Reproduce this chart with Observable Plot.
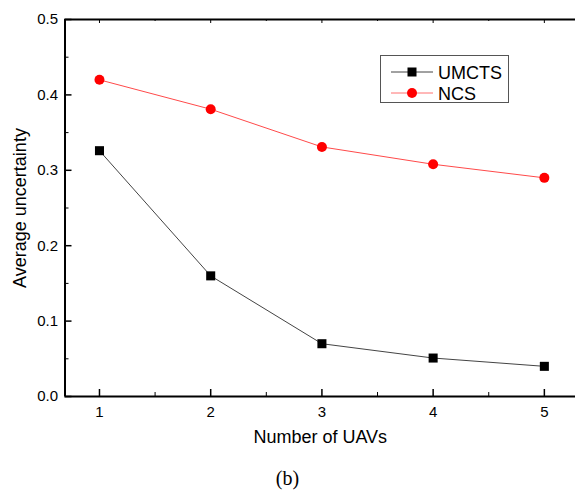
<!DOCTYPE html>
<html>
<head>
<meta charset="utf-8">
<script src="https://cdn.jsdelivr.net/npm/d3@7"></script>
<script src="https://cdn.jsdelivr.net/npm/@observablehq/plot@0.6"></script>
<style>
  body { margin: 0; background: #fff; }
  #wrap { position: relative; width: 575px; height: 495px; font-family: Arial, "Liberation Sans", sans-serif; }
  #legend { position: absolute; left: 380px; top: 55px; width: 127px; height: 46px; border: 1px solid #555; background: #fff; }
  #caption { position: absolute; left: 0; width: 575px; top: 467px; text-align: center; font-family: "Times New Roman", "Liberation Serif", serif; font-size: 20px; }
</style>
</head>
<body>
<div id="wrap">
  <div id="chart"></div>
  <div id="legend"></div>
  <div id="caption">(b)</div>
</div>
<script>
const uavs = [1, 2, 3, 4, 5];
const umcts = [0.326, 0.160, 0.070, 0.051, 0.040];
const ncs = [0.420, 0.381, 0.331, 0.308, 0.290];
const seriesNames = ["UMCTS", "NCS"];
const yMajor = [0, 0.1, 0.2, 0.3, 0.4, 0.5];
const yMinor = [0.05, 0.15, 0.25, 0.35, 0.45];
const xMajor = [1, 2, 3, 4, 5];
const xMinor = [1.5, 2.5, 3.5, 4.5];

const W = 575, H = 455;
const mL = 64.5, mR = 0, mT = 19, mB = H - 396;
const fw = W - mL - mR, fh = H - mT - mB;

const rowsU = uavs.map((x, i) => ({x, y: umcts[i]}));
const rowsN = uavs.map((x, i) => ({x, y: ncs[i]}));

const chart = Plot.plot({
  width: W, height: H,
  marginLeft: mL, marginRight: mR, marginTop: mT, marginBottom: mB,
  style: {fontFamily: "Arial, 'Liberation Sans', sans-serif", fontSize: "15px", color: "#000", background: "#fff"},
  x: {domain: [0.69, 5.28]},
  y: {domain: [0, 0.5]},
  marks: [
    Plot.axisY({ticks: yMajor, tickSize: 0, tickPadding: 7, tickFormat: d3.format(".1f"),
      label: "Average uncertainty", labelAnchor: "center", labelArrow: "none", labelOffset: 52}),
    Plot.axisX({ticks: xMajor, tickSize: 0, tickPadding: 10, tickFormat: d3.format("d"),
      label: "Number of UAVs", labelAnchor: "center", labelArrow: "none", labelOffset: 46}),
    // inward ticks
    Plot.ruleY(yMajor, {y: d => d, insetRight: fw - 7, stroke: "#000", strokeWidth: 1.5}),
    Plot.ruleY(yMinor, {y: d => d, insetRight: fw - 4, stroke: "#000", strokeWidth: 1}),
    Plot.ruleX(xMajor, {x: d => d, insetTop: fh - 7, stroke: "#000", strokeWidth: 1.5}),
    Plot.ruleX(xMinor, {x: d => d, insetTop: fh - 4, stroke: "#000", strokeWidth: 1}),
    Plot.ruleX(xMajor, {x: d => d, insetBottom: fh - 4, stroke: "#000", strokeWidth: 1}),
    Plot.ruleX(xMinor, {x: d => d, insetBottom: fh - 2, stroke: "#000", strokeWidth: 1}),
    // frame lines
    Plot.ruleY([0, 0.5], {stroke: "#000", strokeWidth: 2}),
    Plot.ruleX([0.69], {stroke: "#000", strokeWidth: 2}),
    // series
    Plot.line(rowsU, {x: "x", y: "y", stroke: "#444", strokeWidth: 1}),
    Plot.dot(rowsU, {x: "x", y: "y", symbol: "square", r: 5.1, fill: "#000", stroke: "none"}),
    Plot.line(rowsN, {x: "x", y: "y", stroke: "#ff4a4a", strokeWidth: 1}),
    Plot.dot(rowsN, {x: "x", y: "y", symbol: "circle", r: 5, fill: "#ff0000", stroke: "none"})
  ]
});
chart.querySelectorAll('g[aria-label="y-axis label"], g[aria-label="x-axis label"]').forEach(g => {
  g.setAttribute("font-size", "18");
  g.querySelectorAll("text").forEach(t => t.style.fontSize = "18px");
});
document.getElementById("chart").appendChild(chart);

// legend
const legendSwatches = [
  {name: seriesNames[0], stroke: "#444", fill: "#000", shape: "square"},
  {name: seriesNames[1], stroke: "#ff7070", fill: "#ff0000", shape: "circle"}
];
const lg = d3.select("#legend").append("svg").attr("width", 127).attr("height", 46);
legendSwatches.forEach((s, i) => {
  const cy = 16 + i * 21;
  lg.append("line").attr("x1", 10).attr("x2", 52).attr("y1", cy).attr("y2", cy).attr("stroke", s.stroke).attr("stroke-width", 1);
  if (s.shape === "square") lg.append("rect").attr("x", 26.5).attr("y", cy - 4.5).attr("width", 9).attr("height", 9).attr("fill", s.fill);
  else lg.append("circle").attr("cx", 31).attr("cy", cy).attr("r", 5).attr("fill", s.fill);
  lg.append("text").attr("x", 57).attr("y", cy + 6.5).attr("font-size", 18).attr("font-family", "Arial, 'Liberation Sans', sans-serif").text(s.name);
});
</script>
</body>
</html>
